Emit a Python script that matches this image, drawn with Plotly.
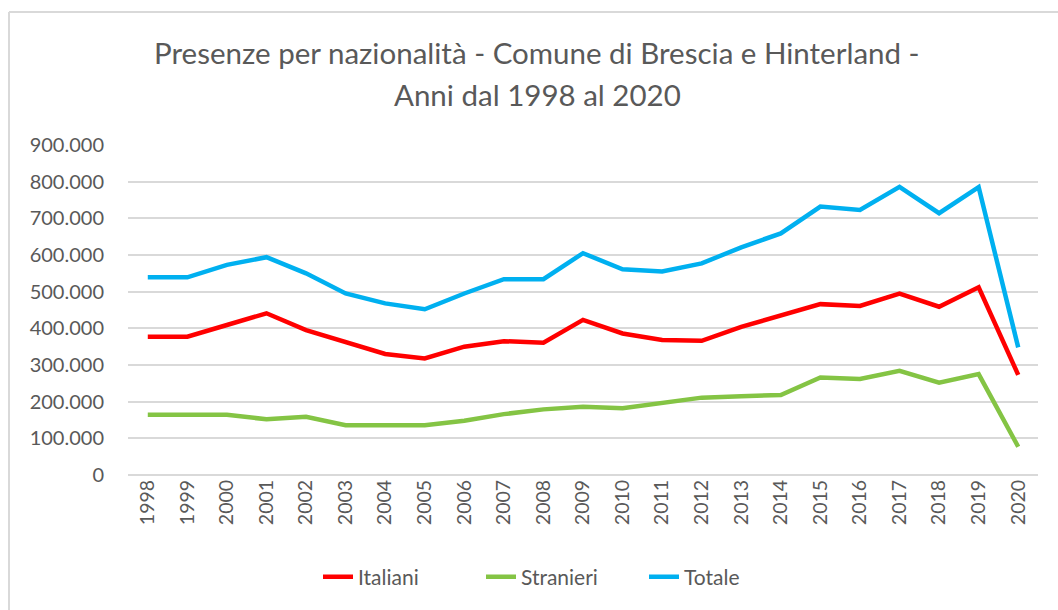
import plotly.graph_objects as go

years = [str(y) for y in range(1998, 2021)]
italiani = [377000, 377000, 409000, 441000, 395000, 364000, 330000, 318000, 350000, 365000, 361000,
            423000, 386000, 368000, 366000, 404000, 436000, 466000, 461000, 495000, 459000, 512000, 273000]
stranieri = [164000, 164000, 164000, 152000, 159000, 136000, 136000, 136000, 148000, 166000, 179000,
             186000, 182000, 195000, 211000, 215000, 218000, 266000, 262000, 284000, 252000, 275000, 77000]
totale = [539000, 539000, 573000, 594000, 550000, 495000, 468000, 452000, 495000, 534000, 534000,
          605000, 561000, 555000, 577000, 621000, 659000, 732000, 723000, 786000, 714000, 785000, 348000]
tick_vals = [0, 100000, 200000, 300000, 400000, 500000, 600000, 700000, 800000, 900000]
tick_text = ["0", "100.000", "200.000", "300.000", "400.000", "500.000", "600.000", "700.000", "800.000", "900.000"]
title_lines = ["Presenze per nazionalità - Comune di Brescia e Hinterland -", "Anni dal 1998 al 2020"]

FONT = "Lato"
GRAY = "#595959"
PLOT_TOP, PLOT_BOTTOM, PLOT_LEFT, PLOT_W = 145, 475, 128, 910


def py(p):
    return (PLOT_BOTTOM - p) / (PLOT_BOTTOM - PLOT_TOP)


def px(p):
    return (p - PLOT_LEFT) / PLOT_W


fig = go.Figure()
for name, vals, col in [("Italiani", italiani, "#ff0000"),
                        ("Stranieri", stranieri, "#84c444"),
                        ("Totale", totale, "#00b0f0")]:
    fig.add_trace(go.Scatter(x=years, y=vals, name=name, mode="lines",
                             line=dict(color=col, width=4.5)))

annotations = [
    dict(text=title_lines[0], xref="paper", yref="paper", x=px(537), y=py(52),
         xanchor="center", yanchor="middle", showarrow=False,
         font=dict(family=FONT, size=29.5, color=GRAY)),
    dict(text=title_lines[1], xref="paper", yref="paper", x=px(537), y=py(95),
         xanchor="center", yanchor="middle", showarrow=False,
         font=dict(family=FONT, size=29.5, color=GRAY)),
]

fig.update_layout(
    width=1058, height=610,
    margin=dict(l=PLOT_LEFT, r=20, t=PLOT_TOP, b=610 - PLOT_BOTTOM),
    paper_bgcolor="white", plot_bgcolor="white",
    font=dict(family=FONT, color=GRAY),
    annotations=annotations,
    showlegend=True,
    legend=dict(orientation="h", x=px(318), xanchor="left", y=py(577), yanchor="middle",
                font=dict(family=FONT, size=21, color=GRAY),
                entrywidth=118, entrywidthmode="pixels",
                traceorder="normal"),
    xaxis=dict(type="category", tickangle=-90, showgrid=False, showline=False,
               ticks="", tickfont=dict(family=FONT, size=19.5, color=GRAY),
               range=[-0.5, 22.5]),
    yaxis=dict(range=[0, 900000], tickvals=tick_vals, ticktext=tick_text,
               showgrid=True, gridcolor="#d9d9d9", gridwidth=1.5, zeroline=True,
               zerolinecolor="#d9d9d9", zerolinewidth=1.5, showline=False,
               tickfont=dict(family=FONT, size=20, color=GRAY), ticklabelstandoff=23),
    shapes=[
        dict(type="line", xref="paper", yref="paper", x0=px(9), x1=1.05,
             y0=py(12), y1=py(12), line=dict(color="#d9d9d9", width=2)),
        dict(type="line", xref="paper", yref="paper", x0=px(9), x1=px(9),
             y0=py(12), y1=-0.5, line=dict(color="#d9d9d9", width=2)),
    ],
)

fig.write_html("out.html", config={"displayModeBar": False},
               post_script="document.body.style.margin='0';document.body.style.overflow='hidden';")
